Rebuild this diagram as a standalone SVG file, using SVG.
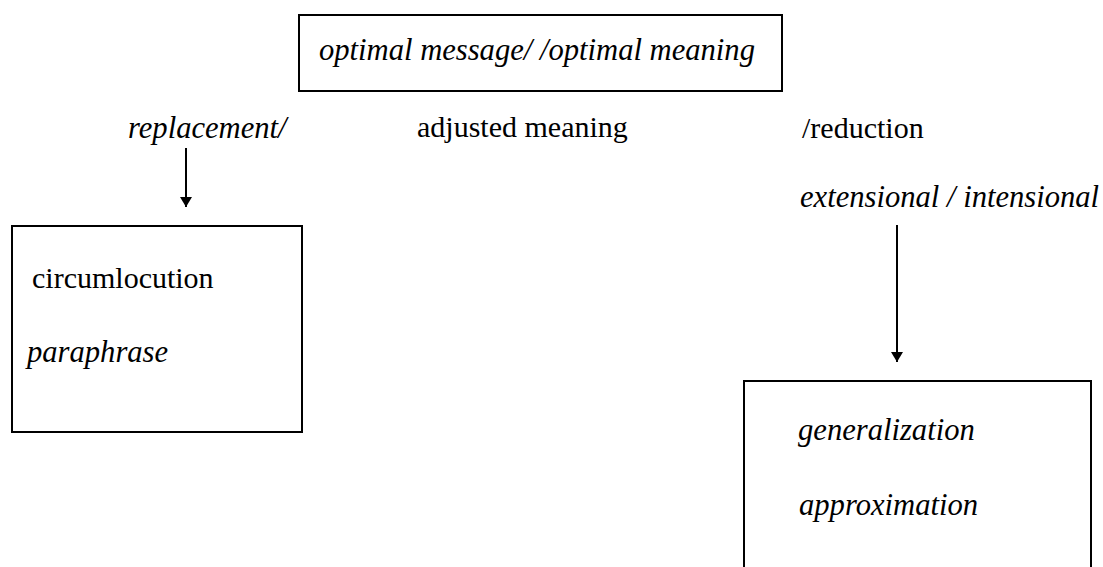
<svg xmlns="http://www.w3.org/2000/svg" width="1103" height="567" viewBox="0 0 1103 567">
<style>
text{font-family:'Liberation Serif','Times New Roman',Times,serif;font-size:30px;fill:#000}
.i{font-style:italic;font-size:30.6px}
.box{fill:#fff;stroke:#000;stroke-width:2}
.conn{stroke:#000;stroke-width:2;fill:none}
</style>
<defs>
<marker id="arr" viewBox="0 0 10 12" refX="10" refY="6" markerWidth="10" markerHeight="12" orient="auto" markerUnits="userSpaceOnUse">
<path d="M0,0 L10,6 L0,12 z" fill="#000"/>
</marker>
</defs>
<rect width="1103" height="567" fill="#fff"/>
<g id="top">
<rect class="box" x="299" y="15" width="483" height="76"/>
<text class="i" x="319" y="60">optimal message/ /optimal meaning</text>
</g>
<g id="labels">
<text class="i" x="128" y="138">replacement/</text>
<text x="417" y="137">adjusted meaning</text>
<text x="802" y="138">/reduction</text>
<text class="i" x="800" y="207">extensional / intensional</text>
</g>
<g id="connectors">
<line class="conn" x1="186" y1="148" x2="186" y2="207" marker-end="url(#arr)"/>
<line class="conn" x1="897" y1="225" x2="897" y2="362" marker-end="url(#arr)"/>
</g>
<g id="left-box">
<rect class="box" x="12" y="226" width="290" height="206"/>
<text x="32" y="288">circumlocution</text>
<text class="i" x="27" y="362">paraphrase</text>
</g>
<g id="right-box">
<rect class="box" x="744" y="381" width="347" height="200"/>
<text class="i" x="798" y="440">generalization</text>
<text class="i" x="799" y="515">approximation</text>
</g>
</svg>
